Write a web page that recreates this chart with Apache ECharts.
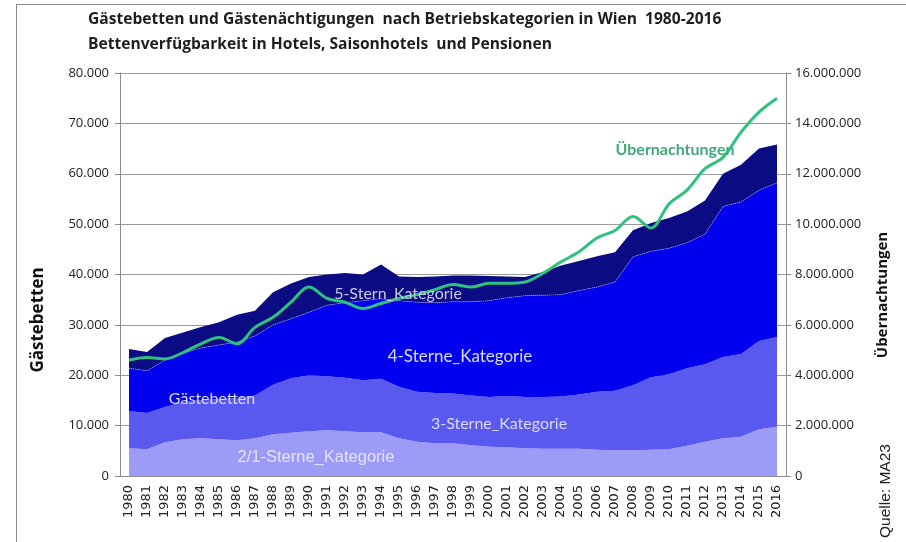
<!DOCTYPE html>
<html>
<head>
<meta charset="utf-8">
<script src="https://cdn.jsdelivr.net/npm/echarts@6/dist/echarts.min.js"></script>
<style>
  html, body { margin: 0; padding: 0; background: #fff; }
  #chart { width: 906px; height: 542px; }
</style>
</head>
<body>
<div id="chart"></div>
<script>
// Jahre
var years = ['1980','1981','1982','1983','1984','1985','1986','1987','1988','1989',
             '1990','1991','1992','1993','1994','1995','1996','1997','1998','1999',
             '2000','2001','2002','2003','2004','2005','2006','2007','2008','2009',
             '2010','2011','2012','2013','2014','2015','2016'];

// Gästebetten je Kategorie
var betten21 = [5500,5300,6700,7300,7500,7300,7100,7500,8300,8600,
                8900,9100,8900,8700,8700,7500,6800,6500,6500,6100,
                5800,5700,5500,5400,5400,5400,5200,5100,5100,5200,
                5300,6000,6800,7500,7800,9300,9800];
var betten3  = [7400,7200,7000,7400,7600,8000,8400,8500,9800,10800,
                11100,10700,10600,10300,10600,10200,9900,10000,9900,9900,
                9900,10200,10200,10300,10400,10800,11500,11800,12900,14400,
                14900,15400,15400,16100,16400,17500,17800];
var betten4  = [8500,8400,9300,9700,10300,10700,11100,11800,11900,11800,
                12500,14100,14900,15800,15900,17100,17800,17900,18200,18600,
                19100,19500,20100,20200,20200,20600,20800,21600,25500,25000,
                25000,24900,25800,29900,30200,29900,30600];
var betten5  = [3800,3700,4400,4100,4200,4500,5400,5000,6500,7000,
                7000,6100,5900,5200,6800,4800,5000,5200,5200,5200,
                4900,4200,3700,4600,5800,5900,6100,5900,5300,5600,
                6000,6200,6700,6500,7400,8300,7600];

// Übernachtungen
var naechtigungen = [4600000,4700000,4650000,4900000,5250000,5500000,5250000,5900000,6300000,6900000,
                     7500000,7050000,6900000,6650000,6850000,7050000,7200000,7400000,7600000,7500000,
                     7650000,7650000,7700000,8050000,8500000,8900000,9450000,9750000,10300000,9850000,
                     10800000,11350000,12200000,12650000,13650000,14450000,15000000];

// Achsenbeschriftung
var bettenTicks = { min: 0, max: 80000, interval: 10000 };
var naechtTicks = { min: 0, max: 16000000, interval: 2000000 };

function fmt(v) {
  return String(v).replace(/\B(?=(\d{3})+(?!\d))/g, '.');
}

var FONT = 'Lato';
var SANS = 'Open Sans';
var chart = echarts.init(document.getElementById('chart'), null, { renderer: 'canvas' });

function areaSeries(name, data, color, line) {
  return {
    name: name,
    type: 'line',
    stack: 'betten',
    yAxisIndex: 0,
    data: data,
    symbol: 'none',
    lineStyle: line || { width: 0 },
    areaStyle: { color: color, opacity: 1 },
    itemStyle: { color: color },
    emphasis: { disabled: true },
    z: 2
  };
}

var option = {
  animation: false,
  backgroundColor: '#ffffff',
  textStyle: { fontFamily: FONT },
  grid: { left: 120, right: 120, top: 73, bottom: 66 },
  xAxis: {
    type: 'category',
    data: years,
    boundaryGap: true,
    axisLine: { lineStyle: { color: '#8c8c8c', width: 1 } },
    axisTick: { show: true, inside: true, length: 3, lineStyle: { color: '#8c8c8c' } },
    axisLabel: { rotate: 90, color: '#222', fontFamily: 'DejaVu Sans', fontSize: 13, interval: 0, margin: 9 }
  },
  yAxis: [
    {
      type: 'value',
      min: bettenTicks.min, max: bettenTicks.max, interval: bettenTicks.interval,
      position: 'left',
      axisLine: { show: true, lineStyle: { color: '#8c8c8c' } },
      axisTick: { show: true, length: 5, lineStyle: { color: '#8c8c8c' } },
      splitLine: { show: true, lineStyle: { color: '#9a9a9a', width: 1 } },
      axisLabel: { color: '#222', fontFamily: SANS, fontSize: 13, margin: 11, formatter: fmt }
    },
    {
      type: 'value',
      min: naechtTicks.min, max: naechtTicks.max, interval: naechtTicks.interval,
      position: 'right',
      axisLine: { show: true, lineStyle: { color: '#8c8c8c' } },
      axisTick: { show: true, length: 5, lineStyle: { color: '#8c8c8c' } },
      splitLine: { show: false },
      axisLabel: { color: '#222', fontFamily: SANS, fontSize: 13, margin: 9, formatter: fmt }
    }
  ],
  series: [
    areaSeries('2/1-Sterne_Kategorie', betten21, '#9c9cf6'),
    areaSeries('3-Sterne_Kategorie', betten3, '#5959ef'),
    areaSeries('4-Sterne_Kategorie', betten4, '#0000ee',
      { width: 1, type: 'dotted', color: 'rgba(170,170,255,0.7)' }),
    areaSeries('5-Stern_Kategorie', betten5, '#0b0b84'),
    {
      name: 'Übernachtungen',
      type: 'line',
      yAxisIndex: 1,
      data: naechtigungen,
      symbol: 'none',
      smooth: 0.35,
      lineStyle: { color: '#2ec27e', width: 3 },
      itemStyle: { color: '#2ec27e' },
      emphasis: { disabled: true },
      z: 5
    }
  ],
  graphic: [
    // Rahmen oben und links
    { type: 'line', shape: { x1: 17, y1: 4.5, x2: 906, y2: 4.5 }, style: { stroke: '#8a8a8a', lineWidth: 1 } },
    { type: 'line', shape: { x1: 16.5, y1: 4, x2: 16.5, y2: 542 }, style: { stroke: '#8a8a8a', lineWidth: 1 } },
    // Titel
    { type: 'text', left: 88, top: 12, style: { text: 'Gästebetten und Gästenächtigungen  nach Betriebskategorien in Wien  1980-2016',
      fill: '#1e1e1e', font: 'bold 15.6px ' + SANS } },
    { type: 'text', left: 88, top: 37, style: { text: 'Bettenverfügbarkeit in Hotels, Saisonhotels  und Pensionen',
      fill: '#1e1e1e', font: 'bold 15.6px ' + SANS } },
    // Achsentitel
    { type: 'text', x: 38, y: 320, rotation: Math.PI / 2, style: { text: 'Gästebetten', fill: '#111',
      font: 'bold 17px ' + SANS, align: 'center', verticalAlign: 'middle' } },
    { type: 'text', x: 883, y: 295, rotation: Math.PI / 2, style: { text: 'Übernachtungen', fill: '#111',
      font: 'bold 15px ' + SANS, align: 'center', verticalAlign: 'middle' } },
    { type: 'text', x: 886, y: 491, rotation: Math.PI / 2, style: { text: 'Quelle: MA23', fill: '#222',
      font: '15.5px Liberation Sans', align: 'center', verticalAlign: 'middle' } },
    // Beschriftungen im Diagramm
    { type: 'text', x: 398, y: 294, z: 10, style: { text: '5-Stern_Kategorie', fill: '#c9c9e4',
      font: '16px ' + FONT, align: 'center', verticalAlign: 'middle' } },
    { type: 'text', x: 460, y: 357, z: 10, style: { text: '4-Sterne_Kategorie', fill: '#dcdcf4',
      font: '17px ' + FONT, align: 'center', verticalAlign: 'middle' } },
    { type: 'text', x: 212, y: 399, z: 10, style: { text: 'Gästebetten', fill: '#dcdcf4',
      font: '16px ' + FONT, align: 'center', verticalAlign: 'middle' } },
    { type: 'text', x: 499, y: 424, z: 10, style: { text: '3-Sterne_Kategorie', fill: '#dcdcf4',
      font: '16px ' + FONT, align: 'center', verticalAlign: 'middle' } },
    { type: 'text', x: 316, y: 457, z: 10, style: { text: '2/1-Sterne_Kategorie', fill: '#e4e4f8',
      font: '16.5px Liberation Sans', align: 'center', verticalAlign: 'middle' } },
    { type: 'text', x: 675, y: 150, z: 10, style: { text: 'Übernachtungen', fill: '#45a87c',
      font: 'bold 16px ' + FONT, align: 'center', verticalAlign: 'middle' } }
  ]
};

chart.setOption(option);
</script>
</body>
</html>
